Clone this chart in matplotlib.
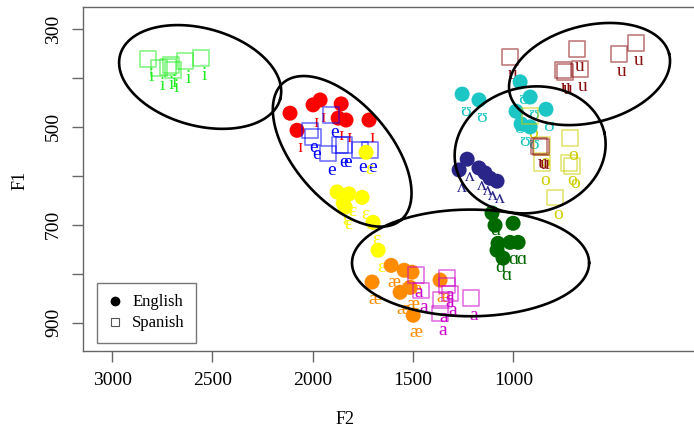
import numpy as np
import matplotlib
matplotlib.use("Agg")
import matplotlib.pyplot as plt
from matplotlib.lines import Line2D

plt.rcParams['font.family'] = ['Liberation Serif', 'DejaVu Serif']

# --- formant values (F2, F1 in Hz) ---
# English vowels (filled circles)
I_f2 = [2113, 2078, 1998, 1963, 1858, 1873, 1834, 1719]
I_f1 = [472, 507, 455, 445, 453, 482, 486, 486]
eps_f2 = [1734, 1878, 1819, 1754, 1848, 1838, 1699, 1674]
eps_f1 = [552, 633, 637, 644, 656, 664, 695, 752]
ae_f2 = [1704, 1609, 1544, 1505, 1564, 1514, 1499, 1365]
ae_f1 = [817, 783, 793, 797, 838, 828, 885, 813]
alpha_f2 = [1106, 1091, 1001, 1076, 1016, 976, 1081, 1051]
alpha_f1 = [676, 701, 697, 738, 736, 736, 752, 768]
wedge_f2 = [1270, 1230, 1171, 1141, 1116, 1081]
wedge_f1 = [588, 566, 584, 594, 605, 611]
U_f2 = [1255, 1171, 966, 916, 986, 837, 961, 916]
U_f1 = [433, 445, 408, 439, 468, 464, 494, 500]

# Spanish vowels (open squares)
i_f2 = [2821, 2766, 2721, 2706, 2696, 2636, 2556]
i_f1 = [361, 380, 378, 374, 384, 365, 359]
e_f2 = [1908, 2013, 1998, 1923, 1863, 1843, 1764, 1714]
e_f1 = [476, 507, 521, 554, 537, 537, 547, 547]
a_f2 = [1485, 1460, 1330, 1330, 1315, 1360, 1365, 1210]
a_f1 = [803, 834, 809, 824, 840, 854, 881, 850]
o_f2 = [916, 856, 717, 856, 722, 707, 792]
o_f1 = [478, 537, 523, 574, 574, 580, 644]
u_f2 = [1016, 682, 752, 742, 667, 473, 388, 871, 861]
u_f1 = [357, 341, 384, 388, 382, 351, 329, 539, 541]

# ellipses: centre (F2, F1) and two conjugate semi-axis vectors (Hz)
ell_centres = [(2561, 398), (1853, 550), (916, 547), (620, 392), (1213, 778)]
ell_axis1 = [(-399, 45), (-294, 140), (-370, -35), (-397, -41), (-591, 0)]
ell_axis2 = [(64, 96), (182, 64), (-69, 125), (-59, 96), (0, 109)]

groups = [
    # f2, f1, label, colour, language
    (i_f2, i_f1, "i", "#22ee22", "es"),
    (I_f2, I_f1, "ɪ", "#ff0000", "en"),
    (e_f2, e_f1, "e", "#0000ff", "es"),
    (eps_f2, eps_f1, "ɛ", "#ffff00", "en"),
    (ae_f2, ae_f1, "æ", "#ff8c00", "en"),
    (a_f2, a_f1, "a", "#cc00cc", "es"),
    (alpha_f2, alpha_f1, "ɑ", "#006a00", "en"),
    (wedge_f2, wedge_f1, "ʌ", "#2a2588", "en"),
    (U_f2, U_f1, "ʊ", "#1cc6c4", "en"),
    (o_f2, o_f1, "o", "#cdcd00", "es"),
    (u_f2, u_f1, "u", "#8b0f0f", "es"),
]

fig = plt.figure(figsize=(6.94, 4.29), dpi=100)
ax = fig.add_axes([0.1196, 0.1818, 0.879, 0.8019])

for f2, f1, lab, col, lang in groups:
    for x, y in zip(f2, f1):
        ax.annotate(lab, (x, y), xytext=(3, -22), textcoords="offset pixels",
                    ha="center", va="baseline", fontsize=14, color=col, zorder=3)
    if lang == "en":
        ax.scatter(f2, f1, s=117, marker="o", color=col, edgecolors="none", zorder=4)
    else:
        ax.scatter(f2, f1, s=125, marker="s", facecolors="none", edgecolors=col,
                   linewidths=1.2, alpha=0.55, zorder=4)

t = np.linspace(0, 2 * np.pi, 300)
for (cx, cy), (a1, b1), (a2, b2) in zip(ell_centres, ell_axis1, ell_axis2):
    ax.plot(cx + a1 * np.cos(t) + a2 * np.sin(t),
            cy + b1 * np.cos(t) + b2 * np.sin(t),
            color="black", linewidth=1.9, zorder=5)

ax.set_xlim(3145, 104)
ax.set_ylim(958, 255)
ax.set_xticks([3000, 2500, 2000, 1500, 1000])
ax.set_yticks([300, 400, 500, 600, 700, 800, 900])
ax.set_yticklabels(["300", "", "500", "", "700", "", "900"])
ax.tick_params(axis="both", length=8, width=1, color="#666666", labelsize=14, pad=7)
for lbl in ax.get_yticklabels():
    lbl.set_rotation(90)
    lbl.set_va("center")
for sp in ax.spines.values():
    sp.set_color("#666666")
    sp.set_linewidth(1)
# the plot box runs off the right edge of the picture
ax.spines["right"].set_visible(False)

fig.text(345 / 694, 1 - 420 / 429, "F2", ha="center", va="center", fontsize=13)
fig.text(20 / 694, 1 - 180 / 429, "F1", ha="center", va="center", fontsize=13, rotation=90)

handles = [
    Line2D([], [], marker="o", linestyle="none", color="black", markersize=6),
    Line2D([], [], marker="s", linestyle="none", markerfacecolor="none",
           markeredgecolor="#555555", markersize=6, markeredgewidth=0.8),
]
leg = ax.legend(handles, ["English", "Spanish"], loc="lower left",
                bbox_to_anchor=(0.023, 0.023), borderaxespad=0, fontsize=12,
                fancybox=False, framealpha=1, edgecolor="#777777",
                handlelength=0.8, handletextpad=0.6, labelspacing=0.3,
                borderpad=0.7)
leg.get_frame().set_linewidth(1)

plt.savefig("out.png", dpi=100)
